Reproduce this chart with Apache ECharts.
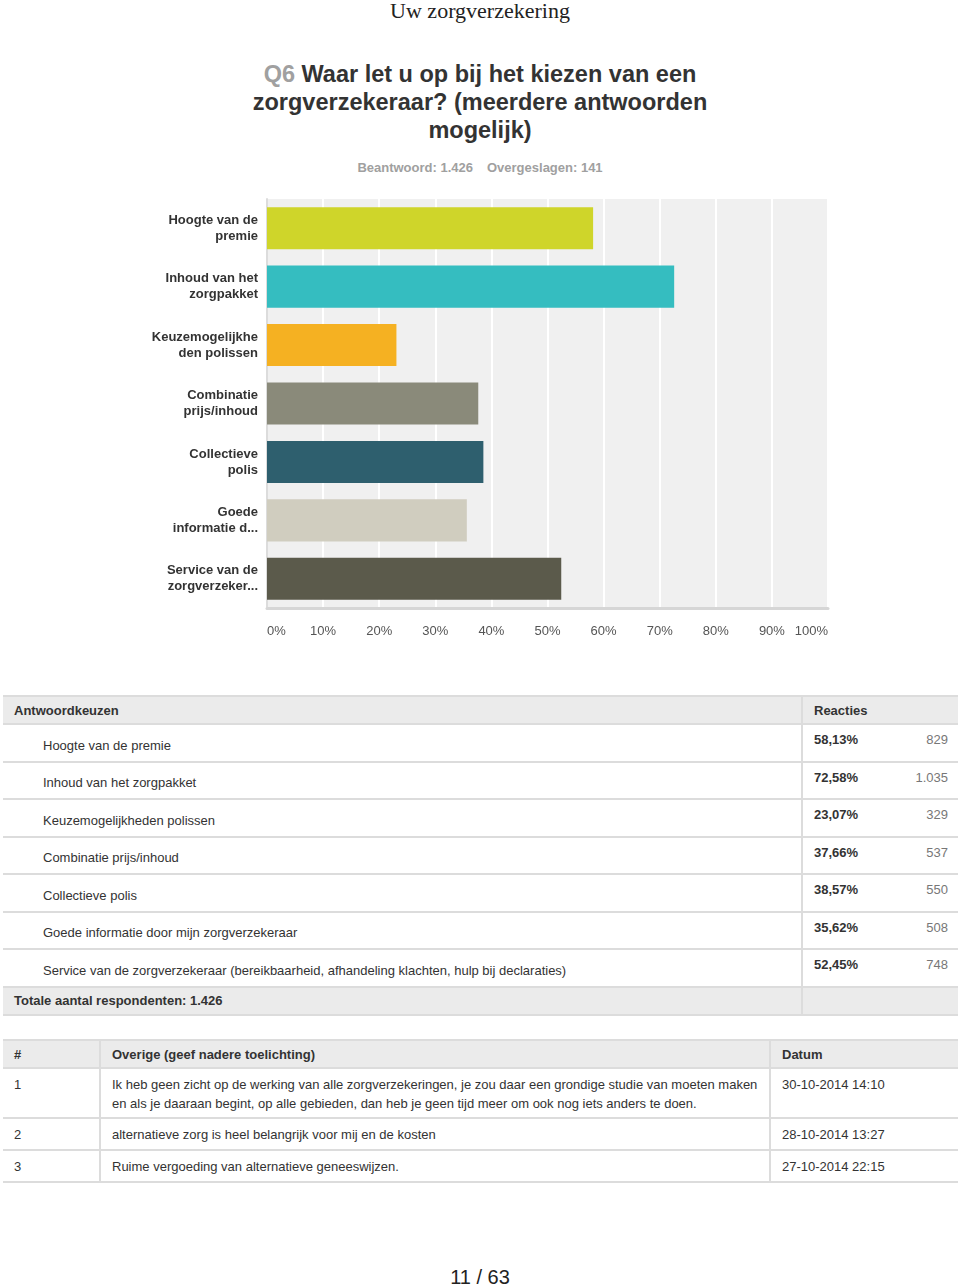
<!DOCTYPE html>
<html><head><meta charset="utf-8">
<script src="https://cdn.jsdelivr.net/npm/echarts@6/dist/echarts.min.js"></script>
<style>
html,body{margin:0;padding:0;background:#fff;width:960px;height:1288px;overflow:hidden;font-family:"Liberation Sans",Arial,sans-serif;}
.abs{position:absolute;}
#head{left:0;top:0;width:960px;text-align:center;font-family:"Liberation Serif","Times New Roman",serif;font-size:22px;line-height:22px;color:#222;}
#q{left:245px;top:60px;width:470px;text-align:center;font-weight:bold;font-size:23.5px;line-height:28px;color:#333;}
#q span{color:#a0a0a0;}
#stats{left:0;top:160px;width:960px;text-align:center;font-weight:bold;font-size:13px;color:#a0a0a0;}
#stats b{margin:0 7px;}
#chart{left:0;top:190px;width:960px;height:460px;}
table{border-collapse:collapse;font-size:13px;color:#333;}
#t1{left:3px;top:695px;width:955px;}
#t2{left:3px;top:1039px;width:955px;}
td,th{padding:0;}
.hdr td{background:#ebebeb;font-weight:bold;height:26px;border-top:2px solid #dcdcdc;border-bottom:2px solid #dcdcdc;}
.row td{border-bottom:2px solid #dcdcdc;}
.vd{border-left:2px solid #dcdcdc;}
#page{left:0;top:1266px;width:960px;text-align:center;font-size:20px;color:#222;}
</style></head>
<body>
<div id="head" class="abs">Uw zorgverzekering</div>
<div id="q" class="abs"><span>Q6</span> Waar let u op bij het kiezen van een zorgverzekeraar? (meerdere antwoorden mogelijk)</div>
<div id="stats" class="abs"><b>Beantwoord: 1.426</b><b>Overgeslagen: 141</b></div>
<div id="chart" class="abs"></div>
<table id="t1" class="abs"></table>
<table id="t2" class="abs"></table>
<div id="page" class="abs">11 / 63</div>
<script>
// ---- data ----
const categories = ["Hoogte van de\npremie","Inhoud van het\nzorgpakket","Keuzemogelijkhe\nden polissen","Combinatie\nprijs/inhoud","Collectieve\npolis","Goede\ninformatie d...","Service van de\nzorgverzeker..."];
const fullLabels = ["Hoogte van de premie","Inhoud van het zorgpakket","Keuzemogelijkheden polissen","Combinatie prijs/inhoud","Collectieve polis","Goede informatie door mijn zorgverzekeraar","Service van de zorgverzekeraar (bereikbaarheid, afhandeling klachten, hulp bij declaraties)"];
const percentages = [58.13, 72.58, 23.07, 37.66, 38.57, 35.62, 52.45];
const percentText = ["58,13%","72,58%","23,07%","37,66%","38,57%","35,62%","52,45%"];
const counts = ["829","1.035","329","537","550","508","748"];
const barColors = ["#cfd52a","#35bdc0","#f5b122","#8a8a7a","#2e5f6e","#d0cdbf","#5b5a4b"];
const comments = [
  ["1","Ik heb geen zicht op de werking van alle zorgverzekeringen, je zou daar een grondige studie van moeten maken en als je daaraan begint, op alle gebieden, dan heb je geen tijd meer om ook nog iets anders te doen.","30-10-2014 14:10"],
  ["2","alternatieve zorg is heel belangrijk voor mij en de kosten","28-10-2014 13:27"],
  ["3","Ruime vergoeding van alternatieve geneeswijzen.","27-10-2014 22:15"]
];

// ---- chart ----
const chart = echarts.init(document.getElementById('chart'));
chart.setOption({
  animation:false,
  grid:{left:267,right:132,top:9,bottom:42,show:true,backgroundColor:'#f0f0f0',borderWidth:0},
  xAxis:{type:'value',min:0,max:100,interval:10,
    axisLine:{show:true,lineStyle:{color:'#d6d6d6',width:3}},
    axisTick:{show:false},
    splitLine:{show:true,lineStyle:{color:'#ffffff',width:2}},
    axisLabel:{formatter:'{value}%',color:'#555',fontSize:13,margin:17,fontFamily:'Liberation Sans',alignMinLabel:'left',alignMaxLabel:'right'}},
  yAxis:{type:'category',inverse:true,data:categories,
    axisLine:{show:true,lineStyle:{color:'#dcdcdc',width:2}},
    axisTick:{show:false},
    axisLabel:{color:'#333',fontSize:13,fontWeight:'bold',lineHeight:16,margin:9,fontFamily:'Liberation Sans'}},
  series:[{type:'bar',barCategoryGap:'28%',
    data:percentages.map((v,i)=>({value:v,itemStyle:{color:barColors[i]}}))}]
});

// ---- tables ----
let h1 = '<tr class="hdr"><td style="padding-left:11px">Antwoordkeuzen</td><td class="vd" colspan="2" style="padding-left:11px">Reacties</td></tr>';
fullLabels.forEach((l,i)=>{
  h1 += '<tr class="row" style="height:37.5px"><td style="padding-left:40px;padding-top:5px;width:758px">'+l+'</td>'+
        '<td class="vd" style="vertical-align:top;padding-top:7px;padding-left:11px;font-weight:bold;width:80px">'+percentText[i]+'</td>'+
        '<td style="vertical-align:top;padding-top:7px;text-align:right;padding-right:10px;color:#777">'+counts[i]+'</td></tr>';
});
h1 += '<tr class="hdr"><td style="padding-left:11px">Totale aantal respondenten: 1.426</td><td class="vd" colspan="2"></td></tr>';
document.getElementById('t1').innerHTML = h1;

let h2 = '<tr class="hdr"><td style="padding-left:11px;width:85px">#</td><td class="vd" style="padding-left:11px;width:657px">Overige (geef nadere toelichting)</td><td class="vd" style="padding-left:11px">Datum</td></tr>';
comments.forEach((c,i)=>{
  const h = i===0 ? 50 : 32;
  const cs = 'vertical-align:top;line-height:19px;padding-top:'+(i===0?6:6)+'px;';
  h2 += '<tr class="row" style="height:'+h+'px"><td style="'+cs+'padding-left:11px">'+c[0]+'</td>'+
        '<td class="vd" style="'+cs+'padding-left:11px;padding-right:2px">'+c[1]+'</td>'+
        '<td class="vd" style="'+cs+'padding-left:11px">'+c[2]+'</td></tr>';
});
document.getElementById('t2').innerHTML = h2;
</script>
</body></html>
